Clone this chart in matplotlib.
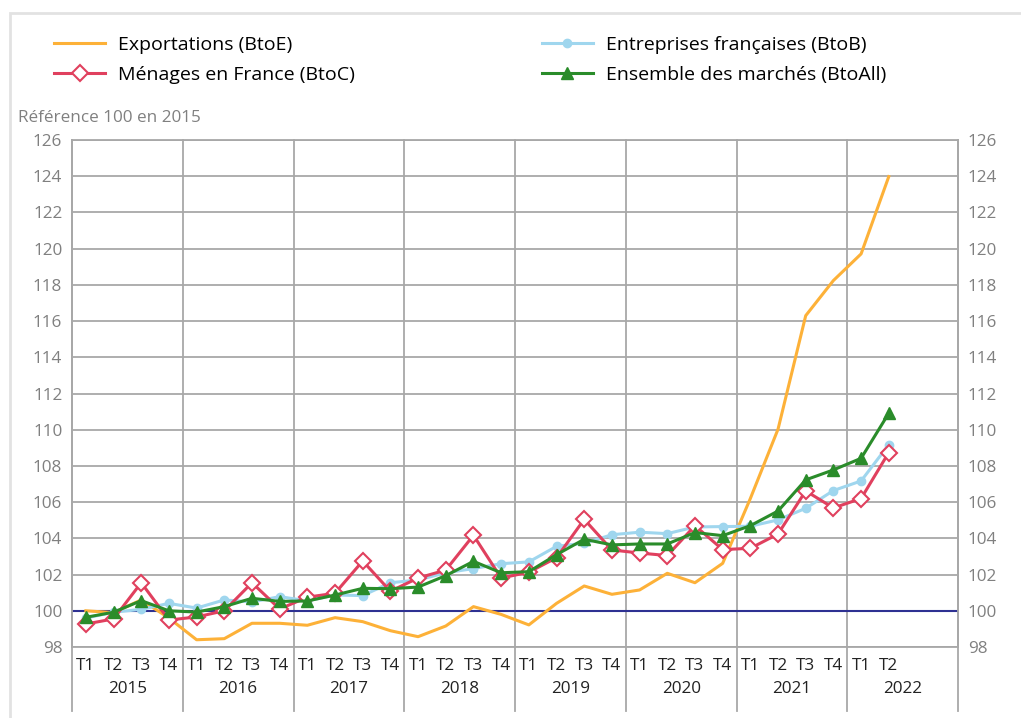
import matplotlib
matplotlib.use('Agg')
import matplotlib.pyplot as plt
from matplotlib.patches import Rectangle
from matplotlib.transforms import blended_transform_factory
from matplotlib.lines import Line2D

plt.rcParams['font.family'] = ['Open Sans', 'DejaVu Sans']

years = ['2015', '2016', '2017', '2018', '2019', '2020', '2021', '2022']
quarters = ['T1', 'T2', 'T3', 'T4']

# indices 2015 T1 .. 2022 T2
btoe = [100.0, 99.9, 100.6, 99.6, 98.4, 98.46, 99.31, 99.31, 99.2, 99.62, 99.4, 98.9,
        98.57, 99.16, 100.23, 99.8, 99.22, 100.41, 101.37, 100.91, 101.15, 102.07, 101.55, 102.62,
        106.2, 110.03, 116.3, 118.24, 119.71, 123.98]
btoc = [99.27, 99.55, 101.55, 99.49, 99.66, 100.0, 101.55, 100.1, 100.75, 100.97, 102.75, 101.08,
        101.81, 102.25, 104.17, 101.81, 102.13, 102.93, 105.05, 103.36, 103.19, 103.05, 104.7, 103.38,
        103.45, 104.24, 106.62, 105.68, 106.2, 108.74]
btob = [99.6, 99.92, 100.08, 100.41, 100.15, 100.6, 100.49, 100.78, 100.55, 100.87, 100.84, 101.55,
        101.7, 102.1, 102.33, 102.6, 102.7, 103.56, 103.73, 104.2, 104.34, 104.26, 104.63, 104.65,
        104.67, 105.02, 105.66, 106.64, 107.17, 109.18]
btoall = [99.64, 99.92, 100.56, 100.0, 99.93, 100.23, 100.69, 100.52, 100.54, 100.87, 101.24, 101.22,
          101.31, 101.94, 102.73, 102.1, 102.16, 103.1, 103.95, 103.64, 103.69, 103.69, 104.32, 104.15,
          104.7, 105.51, 107.23, 107.78, 108.42, 110.91]

c_e = '#fdb138'
c_c = '#e0405e'
c_b = '#9fd6ee'
c_all = '#2a8c2a'
c_ref = '#2e3192'
grid_c = '#a8a8a8'
tick_c = '#808080'
fs = 12.3

W, H = 1021, 718
fig = plt.figure(figsize=(W / 100, H / 100), dpi=100)
ax = fig.add_axes([72 / W, 1 - 647 / H, 886 / W, 507 / H])

x = list(range(len(btoe)))
ax.axhline(100, color=c_ref, lw=1.5, zorder=2)
ax.plot(x, btoe, color=c_e, lw=2.2, zorder=3)
ax.plot(x, btob, color=c_b, lw=2.2, marker='o', ms=6, mec=c_b, mfc=c_b, zorder=4)
ax.plot(x, btoc, color=c_c, lw=2.2, marker='D', ms=8, mfc='white', mec=c_c, mew=1.5, zorder=5)
ax.plot(x, btoall, color=c_all, lw=2.2, marker='^', ms=8.5, mfc=c_all, mec=c_all, zorder=6)

ax.set_xlim(-0.5, 31.5)
ax.set_ylim(98, 126)
ax.set_yticks(range(98, 127, 2))
ax.grid(axis='y', color=grid_c, lw=1.3)
ax.set_axisbelow(True)
for s in ax.spines.values():
    s.set_color(grid_c)
    s.set_linewidth(1.3)

ax.tick_params(axis='y', length=0, labelsize=fs, colors=tick_c, labelright=True, pad=7)
tick_labels = [quarters[i % 4] if i < 30 else '' for i in range(32)]
ax.set_xticks(range(32))
ax.set_xticklabels(tick_labels)
ax.tick_params(axis='x', length=0, labelsize=fs, labelcolor='#222222', pad=8)

# year separators extending below the plot
tr = blended_transform_factory(ax.transData, ax.transAxes)
for k in range(9):
    xs = 4 * k - 0.5
    ax.plot([xs, xs], [1, -0.126], transform=tr, color=grid_c, lw=1.3, clip_on=False, zorder=1)
for k, yr in enumerate(years):
    ax.text(4 * k + 1.5, -0.083, yr, transform=tr, ha='center', va='center', fontsize=fs,
            color='#222222')

fig.text(18 / W, 1 - 118 / H, 'Référence 100 en 2015', fontsize=fs, color=tick_c, va='center')

h_e = Line2D([], [], color=c_e, lw=2.2)
h_c = Line2D([], [], color=c_c, lw=2.2, marker='D', ms=8, mfc='white', mec=c_c, mew=1.5)
h_b = Line2D([], [], color=c_b, lw=2.2, marker='o', ms=6, mfc=c_b, mec=c_b)
h_all = Line2D([], [], color=c_all, lw=2.2, marker='^', ms=8.5, mfc=c_all, mec=c_all)
fig.legend([h_e, h_c, h_b, h_all],
           ['Exportations (BtoE)', 'Ménages en France (BtoC)',
            'Entreprises françaises (BtoB)', 'Ensemble des marchés (BtoAll)'],
           ncol=2, loc='upper left', bbox_to_anchor=(54 / W, 1 - 36 / H), frameon=False,
           fontsize=14, handlelength=2.63, handletextpad=0.67, columnspacing=9.6,
           labelspacing=0.6, borderpad=0, borderaxespad=0)

fig.add_artist(Rectangle((10 / W, -0.1), 1.2, 1 - 13 / H + 0.1, transform=fig.transFigure,
                         fill=False, edgecolor='#e2e2e2', lw=2))

fig.savefig('out.png', dpi=100)
